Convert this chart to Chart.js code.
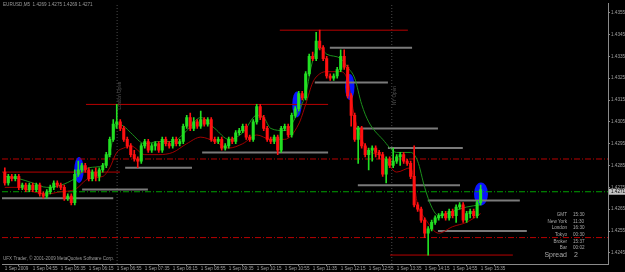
<!DOCTYPE html>
<html lang="en">

<head>
    <meta charset="utf-8">
    <style>
        html, body { margin: 0; padding: 0; background: #000; }
        #wrap { width: 625px; height: 272px; }
    </style>
</head>

<body>
    <div id="wrap">
        <canvas id="priceChart" width="625" height="272"></canvas>
    </div>
    <script src="https://cdn.jsdelivr.net/npm/chart.js"></script>
    <script>
        // EURUSD M5, 1 Sep 2009 - one entry per bar
        const opens = [1.4282,1.4277,1.4280,1.4279,1.4280,1.4275,1.4276,1.4274,1.4276,1.4274,
            1.4276,1.4272,1.4271,1.4273,1.4275,1.4277,1.4276,1.4275,1.4270,1.4271,
            1.4268,1.4281,1.4283,1.4285,1.4283,1.4279,1.4282,1.4280,1.4283,1.4285,
            1.4290,1.4297,1.4304,1.4305,1.4302,1.4297,1.4294,1.4290,1.4288,1.4287,
            1.4294,1.4296,1.4292,1.4294,1.4295,1.4292,1.4297,1.4295,1.4294,1.4297,
            1.4295,1.4296,1.4303,1.4307,1.4302,1.4305,1.4303,1.4306,1.4304,1.4306,
            1.4297,1.4296,1.4297,1.4293,1.4294,1.4297,1.4296,1.4300,1.4301,1.4303,
            1.4298,1.4297,1.4305,1.4312,1.4307,1.4302,1.4297,1.4296,1.4298,1.4292,
            1.4302,1.4303,1.4299,1.4308,1.4311,1.4318,1.4316,1.4327,1.4335,1.4334,
            1.4342,1.4339,1.4334,1.4326,1.4325,1.4326,1.4329,1.4335,1.4330,1.4317,
            1.4308,1.4297,1.4302,1.4294,1.4290,1.4292,1.4293,1.4291,1.4290,1.4281,
            1.4288,1.4285,1.4287,1.4289,1.4290,1.4287,1.4286,1.4280,1.4267,1.4265,
            1.4260,1.4254,1.4256,1.4259,1.4261,1.4262,1.4263,1.4261,1.4264,1.4262,
            1.4266,1.4267,1.4260,1.4263,1.4264,1.4262,1.4268];
        const highs = [1.4284,1.4281,1.4281,1.4281,1.4281,1.4277,1.4277,1.4277,1.4277,1.4277,
            1.4277,1.4273,1.4274,1.4276,1.4278,1.4278,1.4277,1.4276,1.4272,1.4272,
            1.4283,1.4287,1.4286,1.4286,1.4284,1.4283,1.4284,1.4284,1.4286,1.4291,
            1.4298,1.4306,1.4313,1.4306,1.4303,1.4298,1.4295,1.4292,1.4289,1.4295,
            1.4297,1.4297,1.4295,1.4296,1.4296,1.4298,1.4298,1.4296,1.4298,1.4298,
            1.4297,1.4304,1.4308,1.4309,1.4307,1.4306,1.4310,1.4307,1.4307,1.4307,
            1.4298,1.4298,1.4298,1.4295,1.4298,1.4298,1.4301,1.4302,1.4304,1.4304,
            1.4299,1.4306,1.4313,1.4313,1.4308,1.4303,1.4298,1.4299,1.4299,1.4303,
            1.4304,1.4304,1.4309,1.4312,1.4319,1.4319,1.4328,1.4336,1.4337,1.4346,
            1.4347,1.4340,1.4335,1.4327,1.4327,1.4330,1.4338,1.4338,1.4331,1.4318,
            1.4309,1.4303,1.4303,1.4295,1.4293,1.4294,1.4294,1.4292,1.4291,1.4289,
            1.4289,1.4293,1.4290,1.4291,1.4291,1.4288,1.4287,1.4294,1.4268,1.4266,
            1.4261,1.4257,1.4260,1.4262,1.4263,1.4264,1.4264,1.4265,1.4265,1.4267,
            1.4268,1.4268,1.4264,1.4265,1.4265,1.4269,1.4276];
        const lows = [1.4276,1.4276,1.4278,1.4278,1.4274,1.4274,1.4273,1.4273,1.4273,1.4273,
            1.4271,1.4270,1.4270,1.4272,1.4274,1.4275,1.4274,1.4269,1.4269,1.4267,
            1.4267,1.4280,1.4282,1.4282,1.4278,1.4278,1.4278,1.4278,1.4282,1.4284,
            1.4289,1.4296,1.4302,1.4301,1.4296,1.4293,1.4289,1.4287,1.4284,1.4286,
            1.4293,1.4291,1.4291,1.4292,1.4291,1.4291,1.4294,1.4293,1.4293,1.4294,
            1.4294,1.4295,1.4302,1.4301,1.4301,1.4302,1.4302,1.4303,1.4303,1.4296,
            1.4295,1.4295,1.4292,1.4292,1.4293,1.4295,1.4295,1.4299,1.4300,1.4297,
            1.4296,1.4296,1.4304,1.4306,1.4301,1.4296,1.4295,1.4295,1.4290,1.4291,
            1.4301,1.4298,1.4298,1.4307,1.4310,1.4315,1.4315,1.4326,1.4333,1.4333,
            1.4338,1.4333,1.4325,1.4324,1.4324,1.4325,1.4328,1.4329,1.4316,1.4303,
            1.4296,1.4286,1.4293,1.4289,1.4283,1.4287,1.4289,1.4288,1.4280,1.4277,
            1.4284,1.4284,1.4286,1.4285,1.4286,1.4285,1.4279,1.4266,1.4264,1.4259,
            1.4252,1.4244,1.4255,1.4258,1.4260,1.4261,1.4260,1.4260,1.4261,1.4259,
            1.4265,1.4259,1.4259,1.4261,1.4261,1.4261,1.4267];
        const closes = [1.4277,1.4280,1.4279,1.4280,1.4275,1.4276,1.4274,1.4276,1.4274,1.4276,
            1.4272,1.4271,1.4273,1.4275,1.4277,1.4276,1.4275,1.4270,1.4271,1.4268,
            1.4281,1.4283,1.4285,1.4283,1.4279,1.4282,1.4280,1.4283,1.4285,1.4290,
            1.4297,1.4304,1.4305,1.4302,1.4297,1.4294,1.4290,1.4288,1.4287,1.4294,
            1.4296,1.4292,1.4294,1.4295,1.4292,1.4297,1.4295,1.4294,1.4297,1.4295,
            1.4296,1.4303,1.4307,1.4302,1.4305,1.4303,1.4306,1.4304,1.4306,1.4297,
            1.4296,1.4297,1.4293,1.4294,1.4297,1.4296,1.4300,1.4301,1.4303,1.4298,
            1.4297,1.4305,1.4312,1.4307,1.4302,1.4297,1.4296,1.4298,1.4292,1.4302,
            1.4303,1.4299,1.4308,1.4311,1.4318,1.4316,1.4327,1.4335,1.4334,1.4342,
            1.4339,1.4334,1.4326,1.4325,1.4326,1.4329,1.4335,1.4330,1.4317,1.4308,
            1.4297,1.4302,1.4294,1.4290,1.4292,1.4293,1.4291,1.4290,1.4281,1.4288,
            1.4285,1.4287,1.4289,1.4290,1.4287,1.4286,1.4280,1.4267,1.4265,1.4260,
            1.4254,1.4256,1.4259,1.4261,1.4262,1.4263,1.4261,1.4264,1.4262,1.4266,
            1.4267,1.4260,1.4263,1.4264,1.4262,1.4268,1.4274];

        // moving averages, read at [bar, price]
        const greenMa = [[0,1.4280],[4,1.4279],[8,1.4277],[12,1.4275],[16,1.4276],[20,1.4279],
            [24,1.4284],[28,1.4285],[30,1.4291],[32,1.4304],[34,1.4303],[36,1.4300],[40,1.4295],
            [44,1.4296],[48,1.4296],[52,1.4301],[56,1.4307],[60,1.4302],[64,1.4297],[68,1.4300],
            [72,1.4308],[74,1.4307],[76,1.4302],[80,1.4301],[84,1.4310],[86,1.4318],[88,1.4333],
            [90,1.4339],[92,1.4336],[96,1.4334],[98,1.4330],[100,1.4325],[102,1.4313],[104,1.4305],
            [108,1.4297],[112,1.4291],[116,1.4291],[118,1.4287],[120,1.4275],[122,1.4266],
            [124,1.4262],[128,1.4264],[132,1.4266],[136,1.4267]];
        const redMa = [[0,1.4275],[4,1.4275],[8,1.4273],[12,1.4272],[16,1.4273],[20,1.4274],
            [24,1.4279],[28,1.4280],[30,1.4284],[32,1.4291],[34,1.4293],[36,1.4294],[40,1.4290],
            [44,1.4290],[48,1.4291],[52,1.4295],[56,1.4298],[60,1.4296],[64,1.4293],[68,1.4295],
            [72,1.4299],[76,1.4297],[80,1.4297],[84,1.4304],[86,1.4313],[88,1.4323],[90,1.4327],
            [92,1.4328],[96,1.4328],[98,1.4324],[100,1.4307],[102,1.4297],[104,1.4292],[108,1.4289],
            [112,1.4282],[116,1.4284],[118,1.4267],[120,1.4261],[124,1.4254],[128,1.4257],
            [132,1.4259],[136,1.4263]];

        // level lines: [price, from bar, to bar]
        const redLevels = [[1.4347,78.6,115.2],[1.4313,23.2,92.4],[1.4282,-0.8,32.9],[1.4244,110.1,145.2]];
        const grayLevels = [[1.4339,92.9,116.4],[1.4323,88.6,109.5],[1.4284,34.4,53.5],[1.4274,22.1,40.9],
            [1.4270,-0.8,31.0],[1.4291,56.4,92.4],[1.4302,100.0,123.8],[1.4293,109.5,130.9],
            [1.4276,100.9,130.1],[1.4269,120.9,147.2],[1.4255,123.8,149.2]];
        const redDashLevels = [1.4288, 1.4252];
        const greenDashLevels = [1.4273];

        // session markers and highlighted bars
        const sessionBars = [32.1, 110.6];
        const sessionNames = ['London Open', 'NY Open'];
        const sessionTextPrice = 1.4317;
        const highlightBars = [21.2, 83.5, 98.6, 136.1];
        const highlightPrices = [1.4283, 1.4313, 1.4321, 1.4272];

        const timeLabels = ['1 Sep 2009','1 Sep 04:55','1 Sep 05:35','1 Sep 06:15','1 Sep 06:55',
            '1 Sep 07:35','1 Sep 08:15','1 Sep 08:55','1 Sep 09:35','1 Sep 10:15','1 Sep 10:55',
            '1 Sep 11:35','1 Sep 12:15','1 Sep 12:55','1 Sep 13:35','1 Sep 14:15','1 Sep 14:55','1 Sep 15:35'];
        const priceTicks = [1.4355,1.4345,1.4335,1.4325,1.4315,1.4305,1.4295,1.4285,1.4275,1.4265,1.4255,1.4245];

        const header = 'EURUSD,M5  1.4269 1.4275 1.4269 1.4271';
        const bidText = '1.4271';
        const clockNames = ['GMT', 'New York', 'London', 'Tokyo', 'Broker', 'Bar'];
        const clockValues = ['15:30', '11:30', '16:30', '00:30', '15:37', '00:02'];
        const spread = '2';

        const X_MIN = -0.8, X_MAX = 172.4;
        const Y_MIN = 1.42399, Y_MAX = 1.43591;

        function levelSet(list, color, width, dash) {
            return list.map(l => ({
                type: 'line',
                data: [{ x: l[1], y: l[0] }, { x: l[2], y: l[0] }],
                borderColor: color, borderWidth: width, borderDash: dash,
                pointRadius: 0, order: 5
            }));
        }

        function fullLevels(list, color) {
            return levelSet(list.map(p => [p, X_MIN, X_MAX]), color, 1, [6, 2, 1, 2]);
        }

        const overlay = {
            id: 'overlay',
            beforeDatasetsDraw(chart) {
                const ctx = chart.ctx, xs = chart.scales.x, ys = chart.scales.y;
                ctx.save();
                ctx.fillStyle = '#0a14ff';
                highlightBars.forEach((b, k) => {
                    const last = k === highlightBars.length - 1;
                    ctx.beginPath();
                    ctx.ellipse(xs.getPixelForValue(b), ys.getPixelForValue(highlightPrices[k]),
                        last ? 7 : 4.7, last ? 11.5 : 13, 0, 0, Math.PI * 2);
                    ctx.fill();
                });
                ctx.restore();
            },
            afterDraw(chart) {
                const ctx = chart.ctx, xs = chart.scales.x, ys = chart.scales.y;
                ctx.save();
                ctx.font = '4.6px "Liberation Sans"';
                ctx.fillStyle = '#9a9a9a';
                ctx.textBaseline = 'middle';
                ctx.fillText(header, 3, 5);
                ctx.fillText('UFX Trader, \u00a9 2001-2009 MetaQuotes Software Corp.', 3, 259);

                // session captions, written upwards
                ctx.fillStyle = '#555';
                sessionBars.forEach((b, k) => {
                    ctx.save();
                    ctx.translate(xs.getPixelForValue(b) + 3, ys.getPixelForValue(sessionTextPrice));
                    ctx.rotate(-Math.PI / 2);
                    ctx.textAlign = 'center';
                    ctx.fillText(sessionNames[k], 0, 0);
                    ctx.restore();
                });

                // clocks box
                ctx.fillStyle = '#a8a8a8';
                clockNames.forEach((n, k) => {
                    const y = 215 + k * 6.6;
                    ctx.textAlign = 'right';
                    ctx.fillText(n, 567, y);
                    ctx.textAlign = 'left';
                    ctx.fillText(clockValues[k], 573, y);
                });
                ctx.font = '7px "Liberation Sans"';
                ctx.textAlign = 'right';
                ctx.fillText('Spread', 567, 255);
                ctx.textAlign = 'left';
                ctx.fillText(spread, 574, 255);

                // bid price box on the axis
                const by = ys.getPixelForValue(greenDashLevels[0]);
                ctx.fillStyle = '#c4c4c4';
                ctx.fillRect(chart.chartArea.right + 1, by - 3, 17, 6);
                ctx.fillStyle = '#000';
                ctx.font = '4.6px "Liberation Sans"';
                ctx.fillText(bidText, chart.chartArea.right + 3, by);
                ctx.restore();
            }
        };

        function createChart() {
            const up = closes.map((c, i) => c >= opens[i]);
            const bodyColors = up.map(u => u ? '#22e022' : '#ff1010');

            const datasets = [
                {
                    type: 'bar', label: 'body',
                    data: closes.map((c, i) => ({ x: i, y: [opens[i], c] })),
                    backgroundColor: bodyColors, barThickness: 2.4, minBarLength: 1,
                    grouped: false, order: 0
                },
                {
                    type: 'bar', label: 'wick',
                    data: highs.map((h, i) => ({ x: i, y: [lows[i], h] })),
                    backgroundColor: bodyColors, barThickness: 1,
                    grouped: false, order: 1
                },
                {
                    type: 'line', label: 'fast',
                    data: greenMa.map(p => ({ x: p[0], y: p[1] })),
                    borderColor: '#1b8f1b', borderWidth: 1, pointRadius: 0,
                    cubicInterpolationMode: 'monotone', order: 2
                },
                {
                    type: 'line', label: 'slow',
                    data: redMa.map(p => ({ x: p[0], y: p[1] })),
                    borderColor: '#a00000', borderWidth: 1, pointRadius: 0,
                    cubicInterpolationMode: 'monotone', order: 2
                }
            ];

            sessionBars.forEach(b => datasets.push({
                type: 'line', data: [{ x: b, y: Y_MIN }, { x: b, y: Y_MAX }],
                borderColor: '#4a4a4a', borderWidth: 1, borderDash: [1, 2], pointRadius: 0, order: 6
            }));

            datasets.push(...levelSet(grayLevels, '#7a7a7a', 2, []));
            datasets.push(...levelSet(redLevels, '#b80000', 1, []));
            datasets.push(...fullLevels(redDashLevels, '#b80000'));
            datasets.push(...fullLevels(greenDashLevels, '#00a000'));

            new Chart(document.getElementById('priceChart'), {
                type: 'bar',
                data: { datasets: datasets },
                options: {
                    responsive: false,
                    animation: false,
                    layout: { padding: { left: 2, top: 3, right: 0, bottom: 0 } },
                    plugins: { legend: { display: false }, tooltip: { enabled: false } },
                    scales: {
                        x: {
                            type: 'linear', min: X_MIN, max: X_MAX, offset: false,
                            afterBuildTicks: s => { s.ticks = timeLabels.map((t, k) => ({ value: k * 8 })); },
                            afterFit: s => { s.height = 8; },
                            ticks: {
                                autoSkip: false, maxRotation: 0, align: 'start', padding: 0,
                                color: '#a0a0a0', font: { size: 4.6, family: 'Liberation Sans' },
                                callback: v => timeLabels[Math.round(v / 8)]
                            },
                            grid: { drawOnChartArea: false, tickLength: 2, color: '#8a8a8a' },
                            border: { color: '#8a8a8a' }
                        },
                        y: {
                            type: 'linear', position: 'right', min: Y_MIN, max: Y_MAX,
                            afterBuildTicks: s => { s.ticks = priceTicks.map(v => ({ value: v })); },
                            afterFit: s => { s.width = 17; },
                            ticks: {
                                padding: 1, color: '#a0a0a0',
                                font: { size: 4.6, family: 'Liberation Sans' },
                                callback: v => v.toFixed(4)
                            },
                            grid: { drawOnChartArea: false, tickLength: 2, color: '#8a8a8a' },
                            border: { color: '#8a8a8a' }
                        }
                    }
                },
                plugins: [overlay]
            });
        }

        createChart();
    </script>
</body>

</html>
